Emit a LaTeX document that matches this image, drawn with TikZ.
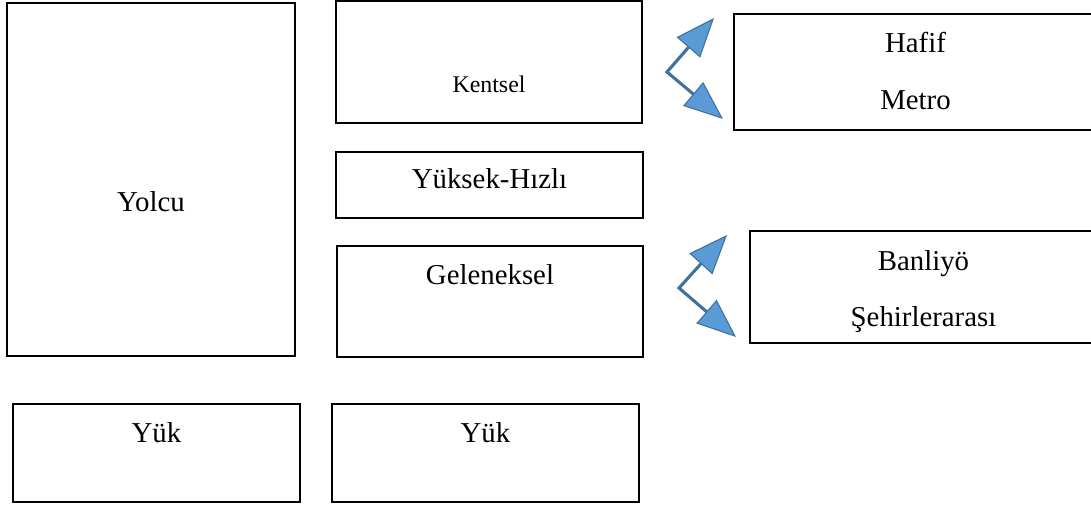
\documentclass[tikz,border=0pt]{standalone}
\usepackage{fontspec}
\setmainfont{Liberation Serif}
\usetikzlibrary{arrows.meta,positioning}
\definecolor{forkline}{HTML}{41719C}
\definecolor{forkfill}{HTML}{5B9BD5}
\tikzset{%
  % Specifications for style of arrows:
   forkhead/.tip={
           Triangle[length=0.975cm, width=0.775cm, fill=forkfill, line width=0.8pt]},
   fork/.style={
           forkhead-forkhead,
           draw=forkline,
           line width=2.2pt,},
  % Specifications for style of nodes:
   railbox/.style = {rectangle, draw=black, line width=1pt,
                  inner sep=0pt, outer sep=0pt},
   boxtext/.style = {anchor=base, inner sep=0pt,
                  font=\fontsize{20.5}{24}\selectfont},
   smalltext/.style = {boxtext, font=\fontsize{17}{20}\selectfont},
}

\begin{document}
\begin{tikzpicture}[node distance=1cm]
  \useasboundingbox (0,0) rectangle (27.275,-12.65);

  % Specification of nodes (position, etc.)
  \node (yolcu_block) [railbox, anchor=north west, minimum width=7.2cm, minimum height=8.825cm,
        label={[boxtext, label distance=-5.225cm]90:Yolcu}] at (0.175,-0.075) {};
  \node (kentsel_block) [railbox, minimum width=7.65cm, minimum height=3.05cm,
        right=1.025cm of yolcu_block.north east, anchor=north west, yshift=0.05cm,
        label={[smalltext, label distance=-2.3cm]90:Kentsel}] {};
  \node (yuksek_block) [railbox, minimum width=7.675cm, minimum height=1.65cm,
        below=0.725cm of kentsel_block.south west, anchor=north west,
        label={[boxtext, label distance=-0.925cm]90:Yüksek-Hızlı}] {};
  \node (geleneksel_block) [railbox, minimum width=7.65cm, minimum height=2.775cm,
        below=0.7cm of yuksek_block.south west, anchor=north west, xshift=0.025cm,
        label={[boxtext, label distance=-0.95cm]90:Geleneksel}] {};
  \node (yuk_block) [railbox, minimum width=7.175cm, minimum height=2.45cm,
        below=1.2cm of yolcu_block.south west, anchor=north west, xshift=0.15cm,
        label={[boxtext, label distance=-0.95cm]90:Yük}] {};
  \node (yukright_block) [railbox, minimum width=7.675cm, minimum height=2.45cm,
        right=0.8cm of yuk_block.north east, anchor=north west,
        label={[boxtext, label distance=-0.95cm]90:Yük}] {};
  \node (hafif_block) [railbox, minimum width=9.075cm, minimum height=2.9cm,
        right=2.3cm of kentsel_block.north east, anchor=north west, yshift=-0.325cm,
        label={[boxtext, label distance=-0.975cm]90:Hafif},
        label={[boxtext, label distance=-2.4cm]90:Metro}] {};
  \node (banliyo_block) [railbox, minimum width=8.675cm, minimum height=2.8cm,
        below=2.525cm of hafif_block.south west, anchor=north west, xshift=0.4cm,
        label={[boxtext, label distance=-0.975cm]90:Banliyö},
        label={[boxtext, label distance=-2.375cm]90:Şehirlerarası}] {};

  % Fork points of the arrows
  \coordinate (hafif_up) at ([shift={(-0.5,-0.1)}]hafif_block.north west);
  \coordinate (hafif_fork) at ([shift={(-1.675,0)}]hafif_block.west);
  \coordinate (hafif_down) at ([shift={(-0.275,0.275)}]hafif_block.south west);
  \coordinate (banliyo_up) at ([shift={(-0.575,-0.1)}]banliyo_block.north west);
  \coordinate (banliyo_fork) at ([shift={(-1.775,-0.025)}]banliyo_block.west);
  \coordinate (banliyo_down) at ([shift={(-0.35,0.15)}]banliyo_block.south west);

  % Arrows
	\draw[fork]	(hafif_up) -- (hafif_fork) -- (hafif_down);
	\draw[fork]	(banliyo_up) -- (banliyo_fork) -- (banliyo_down);

\end{tikzpicture}
\end{document}
